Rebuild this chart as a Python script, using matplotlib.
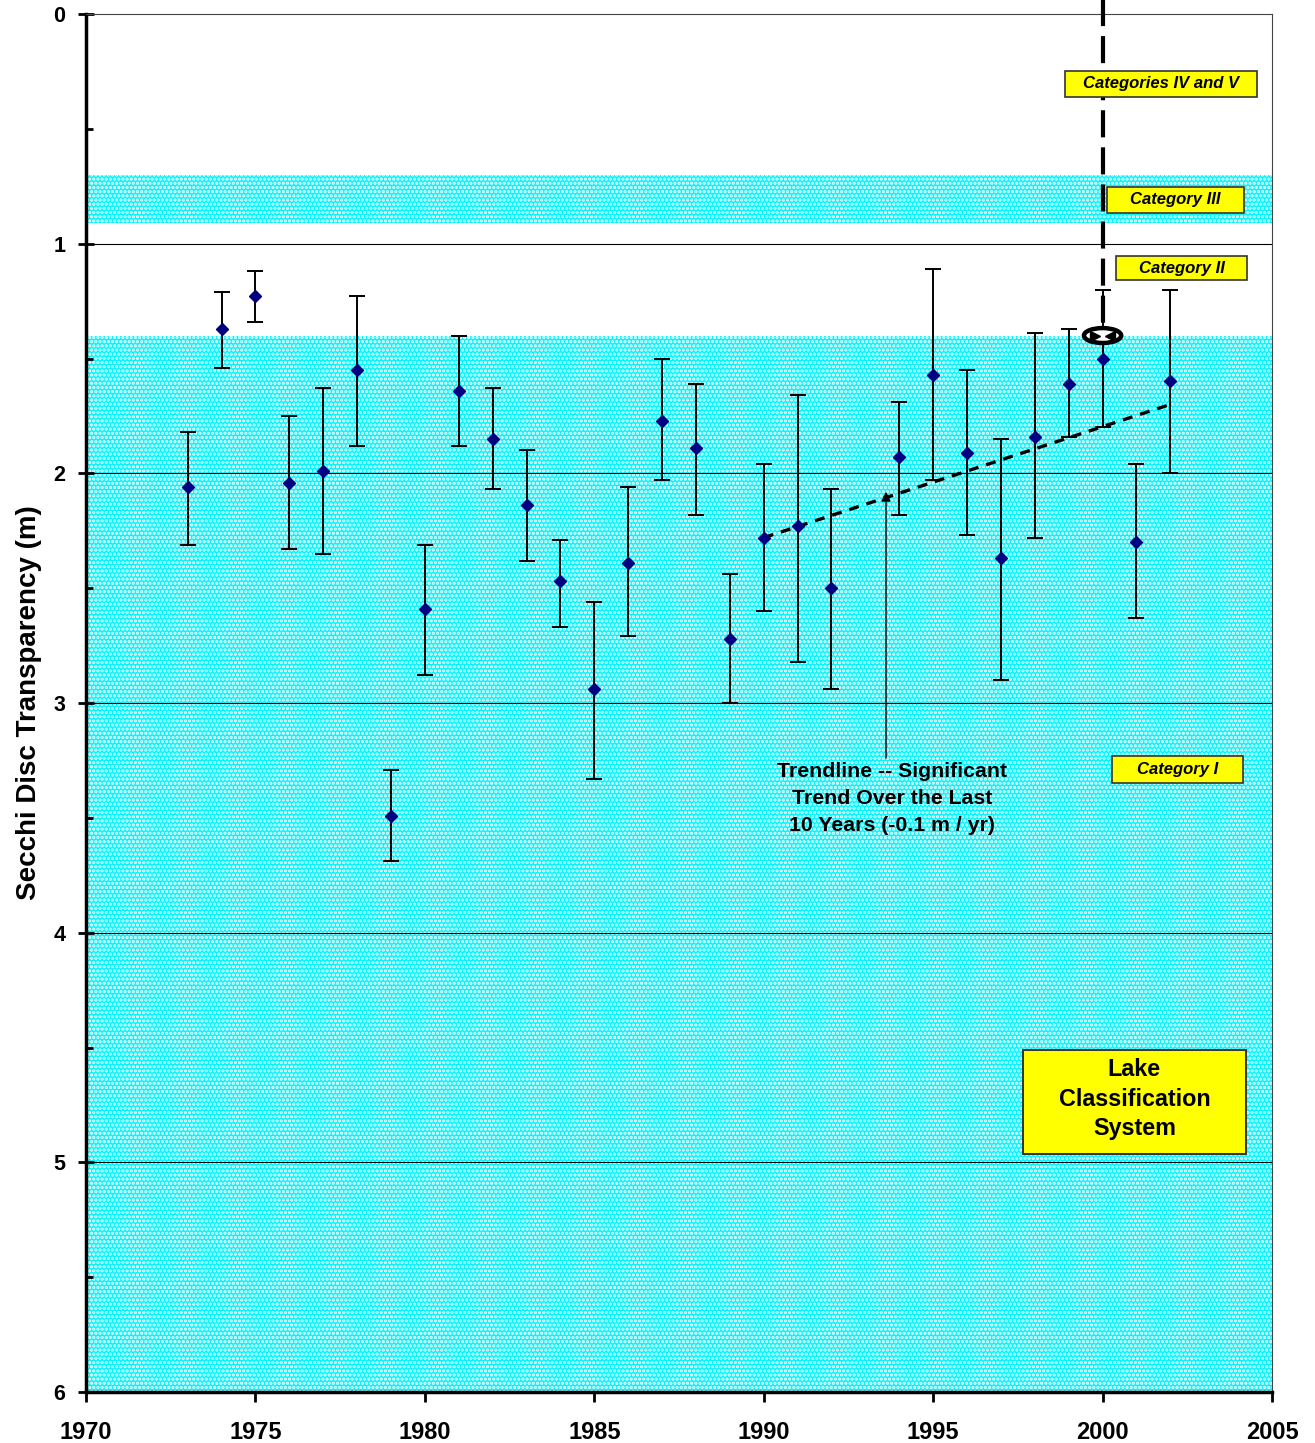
import matplotlib
matplotlib.use("Agg")
import matplotlib.pyplot as plt
import numpy as np
from matplotlib.patches import Ellipse, Rectangle

plt.rcParams["font.family"] = ["Liberation Sans", "DejaVu Sans"]
plt.rcParams["hatch.linewidth"] = 1.6

# Secchi depth annual means (m) with the shallow / deep ends of each error bar
years = [1973, 1974, 1975, 1976, 1977, 1978, 1979, 1980, 1981, 1982, 1983, 1984,
         1985, 1986, 1987, 1988, 1989, 1990, 1991, 1992, 1994, 1995, 1996, 1997,
         1998, 1999, 2000, 2001, 2002]
secchi_mean = [2.06, 1.37, 1.23, 2.04, 1.99, 1.55, 3.49, 2.59, 1.64, 1.85, 2.14, 2.47,
               2.94, 2.39, 1.77, 1.89, 2.72, 2.28, 2.23, 2.50, 1.93, 1.57, 1.91, 2.37,
               1.84, 1.61, 1.50, 2.30, 1.60]
ci_shallow = [1.82, 1.21, 1.12, 1.75, 1.63, 1.23, 3.29, 2.31, 1.40, 1.63, 1.90, 2.29,
              2.56, 2.06, 1.50, 1.61, 2.44, 1.96, 1.66, 2.07, 1.69, 1.11, 1.55, 1.85,
              1.39, 1.37, 1.20, 1.96, 1.20]
ci_deep = [2.31, 1.54, 1.34, 2.33, 2.35, 1.88, 3.69, 2.88, 1.88, 2.07, 2.38, 2.67,
           3.33, 2.71, 2.03, 2.18, 3.00, 2.60, 2.82, 2.94, 2.18, 2.03, 2.27, 2.90,
           2.28, 1.84, 1.80, 2.63, 2.00]

# 10-year trendline endpoints
trend_years = [1990, 2002]
trend_depth = [2.28, 1.70]

# category bands (depth ranges shaded)
band_category_iii = (0.70, 0.91)
band_category_i = (1.40, 6.00)

# marker for the 2000 reference year
ref_year = 2000
ref_depth = 1.40

BAND_COLOR = "#08f4fc"
BOX_YELLOW = "#ffff00"

fig = plt.figure(figsize=(13.15, 14.43), dpi=100)
ax = fig.add_axes([86 / 1315, 1 - 1392 / 1443, (1272 - 86) / 1315, (1392 - 14) / 1443])

ax.set_xlim(1970, 2005)
ax.set_ylim(6, 0)

for lo, hi in (band_category_iii, band_category_i):
    ax.axhspan(lo, hi, facecolor=BAND_COLOR, edgecolor="white", hatch="....",
               linewidth=0, zorder=0)

for depth in [1, 2, 3, 4, 5]:
    ax.axhline(depth, color="black", linewidth=0.8, zorder=1)

# error bars and means
means = np.array(secchi_mean)
yerr = [means - np.array(ci_shallow), np.array(ci_deep) - means]
ax.errorbar(years, secchi_mean, yerr=yerr, fmt="D", color="#000080", markersize=6.5,
            ecolor="black", elinewidth=1.4, capsize=6, capthick=1.4, zorder=4)

# trendline
ax.plot(trend_years, trend_depth, color="black", linewidth=2.4,
        linestyle=(0, (3, 2.4)), zorder=3)

# vertical dashed reference line at 2000, running above the plot
ax.plot([ref_year, ref_year], [-0.07, ref_depth - 0.03], color="black", linewidth=3,
        linestyle=(0, (6.5, 2.4)), clip_on=False, zorder=5)
ax.add_patch(Ellipse((ref_year, ref_depth), 1.1, 0.065, facecolor="white",
                     edgecolor="black", linewidth=3.2, zorder=6))
ax.plot([ref_year - 0.22], [ref_depth], marker=">", color="black", markersize=7, zorder=7)
ax.plot([ref_year + 0.22], [ref_depth], marker="<", color="black", markersize=7, zorder=7)

# category labels
category_boxes = [
    ("Categories IV and V", 1998.89, 2004.56, 0.248, 0.361),
    ("Category III", 2000.13, 2004.17, 0.753, 0.866),
    ("Category II", 2000.40, 2004.26, 1.054, 1.158),
    ("Category I", 2000.28, 2004.14, 3.231, 3.348),
]
for label, x0, x1, y0, y1 in category_boxes:
    ax.add_patch(Rectangle((x0, y0), x1 - x0, y1 - y0, facecolor=BOX_YELLOW,
                           edgecolor="#333333", linewidth=1.2, zorder=8))
    ax.text((x0 + x1) / 2, (y0 + y1) / 2, label, ha="center", va="center",
            fontsize=12, fontweight="bold", fontstyle="italic", zorder=9)

ax.add_patch(Rectangle((1997.65, 4.511), 2004.23 - 1997.65, 4.964 - 4.511,
                       facecolor=BOX_YELLOW, edgecolor="#333333", linewidth=1.4, zorder=8))
ax.text((1997.65 + 2004.23) / 2, 4.725, "Lake\nClassification\nSystem", ha="center",
        va="center", fontsize=16.8, fontweight="bold", linespacing=1.36, zorder=9)

# trendline annotation
ax.text(1993.79, 3.415, "Trendline -- Significant\nTrend Over the Last\n10 Years (-0.1 m / yr)",
        ha="center", va="center", fontsize=15.3, fontweight="bold", linespacing=1.55, zorder=9)
ax.annotate("", xy=(1993.61, 2.08), xytext=(1993.61, 3.24),
            arrowprops=dict(arrowstyle="-|>", color="black", linewidth=1,
                            mutation_scale=14, shrinkA=0, shrinkB=0), zorder=9)

# axes styling
ax.set_xticks(range(1970, 2006, 5))
ax.set_yticks(range(0, 7))
ax.set_yticks(np.arange(0.5, 6, 1.0), minor=True)
ax.tick_params(axis="x", direction="out", length=7, width=2, labelsize=17, pad=14)
ax.tick_params(axis="y", which="major", direction="inout", length=12, width=2,
               labelsize=15.5, pad=9)
ax.tick_params(axis="y", which="minor", direction="in", length=5, width=2)
for lab in ax.get_xticklabels() + ax.get_yticklabels():
    lab.set_fontweight("bold")

ax.spines["left"].set_linewidth(2.5)
ax.spines["bottom"].set_linewidth(2.5)
for side in ("top", "right"):
    ax.spines[side].set_linewidth(0.8)
    ax.spines[side].set_color("#444444")

ax.set_ylabel("Secchi Disc Transparency (m)", fontsize=20, fontweight="bold", labelpad=8)

fig.savefig("out.png", dpi=100)
